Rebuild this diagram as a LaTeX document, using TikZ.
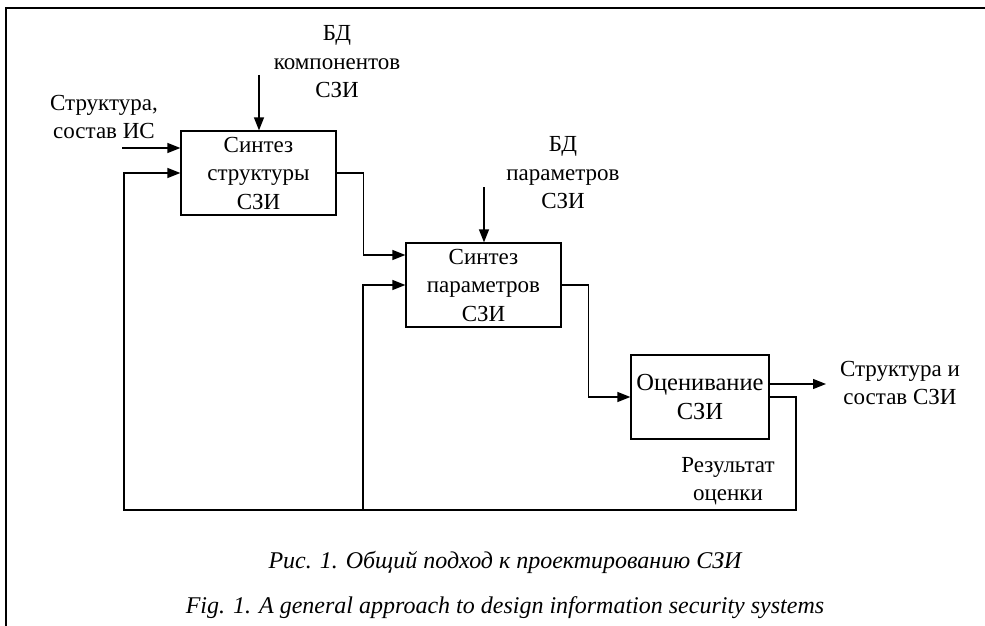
\documentclass[tikz,border=0pt]{standalone}
\usepackage{fontspec}
\setmainfont{Liberation Serif}
\usetikzlibrary{arrows.meta, positioning, calc}

\begin{document}
\begin{tikzpicture}[
    x=1pt, y=-1pt,
    block/.style={rectangle, draw, line width=1.3pt, minimum width=155pt,
                  minimum height=84pt, align=center, inner sep=0pt,
                  font=\fontsize{23}{28.5}\selectfont},
    arr/.style={-{Triangle[length=13pt, width=10pt]}, line width=1.3pt},
    lbl/.style={align=center, inner sep=0pt, font=\fontsize{23}{28.5}\selectfont},
    caption/.style={inner sep=0pt, font=\fontsize{24}{28}\selectfont\itshape}
  ]
  \useasboundingbox (0,0) rectangle (985,626);

  % Frame
  \draw[line width=1.6pt] (6,626) -- (6,8) -- (985,8);

  % Blocks
  \node[block] (synstr) at (258.5,173) {Синтез\\структуры\\СЗИ};
  \node[block] (synpar) at (483.5,285) {Синтез\\параметров\\СЗИ};
  \node[block, minimum width=138pt, font=\fontsize{24.5}{28.5}\selectfont]
       (otsenka) at (700,397) {Оценивание\\СЗИ};

  % Labels
  \node[lbl] (bdkomp) at (337,62)  {БД\\компонентов\\СЗИ};
  \node[lbl] (struct) at (104,117) {Структура,\\состав ИС};
  \node[lbl] (bdpar)  at (563,173) {БД\\параметров\\СЗИ};
  \node[lbl] (result) at (900,383) {Структура и\\состав СЗИ};
  \node[lbl] (ocenka) at (728,481) {Результат\\оценки};

  % Free ends
  \coordinate (in1)  at (122,148);
  \coordinate (bd1)  at (259,75);
  \coordinate (bd2)  at (484,187);
  \coordinate (out1) at (826,384);
  \coordinate (fbL)  at (124,510);
  \coordinate (fbM)  at (363,510);
  \coordinate (fbR)  at (796,510);

  % Inputs
  \draw[arr] (in1) -- (in1 -| synstr.west);
  \draw[arr] (bd1) -- (bd1 |- synstr.north);
  \draw[arr] (bd2) -- (bd2 |- synpar.north);

  % Block to block
  \draw[arr] (synstr.east) -- ++(27,0) |- ([yshift=30pt]synpar.west);
  \draw[arr] (synpar.east) -- ++(27,0) |- (otsenka.west);

  % Output
  \draw[arr] (out1 -| otsenka.east) -- (out1);

  % Feedback
  \draw[arr] (otsenka.east) -| (fbR) -- (fbL) |- (synstr.west);
  \draw[arr] (fbM) |- (synpar.west);

  % Captions
  \node[caption] (cap1) at (505,562) {Рис. 1. Общий подход к проектированию СЗИ};
  \node[caption] (cap2) at (505,608) {Fig. 1. A general approach to design information security systems};

\end{tikzpicture}
\end{document}
